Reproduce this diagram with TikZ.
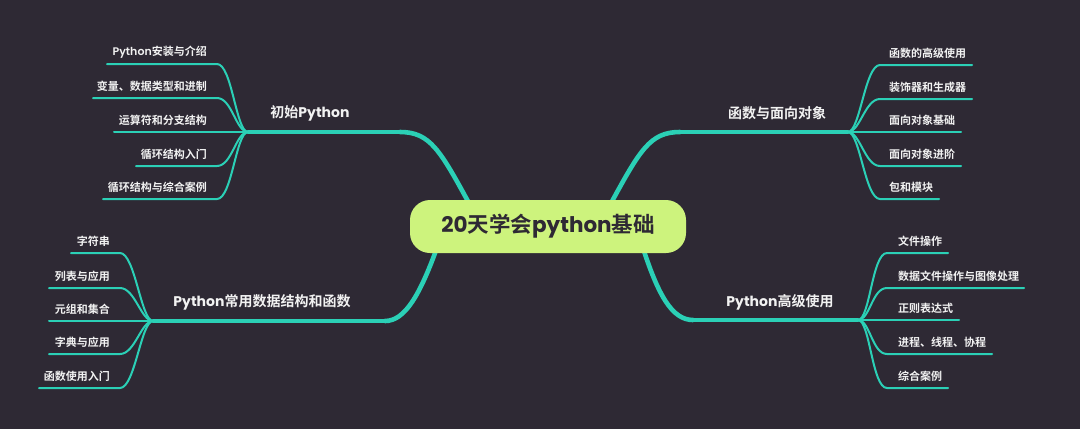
\documentclass[tikz,border=0pt]{standalone}
\usepackage{fontspec}
\setmainfont{Poppins}[UprightFont=* SemiBold, BoldFont=* Bold]
\newfontfamily\cjk{Noto Sans CJK SC}[UprightFont=* Bold, BoldFont=* Bold]
\newcommand\zh[1]{{\cjk #1}}
\definecolor{mmbg}{RGB}{46,41,52}
\definecolor{mmteal}{RGB}{43,208,182}
\definecolor{mmlime}{RGB}{205,243,125}
\definecolor{mmtxt}{RGB}{242,242,242}
\begin{document}
\begin{tikzpicture}[x=1pt,y=-1pt,
  sub/.style={draw=mmteal, line width=2pt, line cap=round},
  mainh/.style={draw=mmteal, line width=3.4pt, line cap=round},
  mainc/.style={draw=mmteal, line width=4.6pt, line cap=round},
  lbl/.style={text=mmtxt, font=\fontsize{11}{13}\selectfont, inner sep=0pt},
  mlbl/.style={text=mmtxt, font=\bfseries\fontsize{14}{17}\selectfont, inner sep=0pt},
  rootbox/.style={fill=mmlime, rounded corners=20pt, minimum width=276pt, minimum height=53pt,
     inner sep=0pt, text=mmbg, font=\bfseries\fontsize{21.5}{25}\selectfont}]
\fill[mmbg] (0,0) rectangle (1080,429);
\useasboundingbox (0,0) rectangle (1080,429);

% junctions
\coordinate (J1) at (248,132);
\coordinate (J2) at (848,132);
\coordinate (J3) at (153,321);
\coordinate (J4) at (858,320);

% main branches
\coordinate (tlM) at (400,132); \coordinate (tlC) at (470,205);
\coordinate (trM) at (680,132); \coordinate (trC) at (610,205);
\coordinate (blM) at (385,321); \coordinate (blC) at (438,245);
\coordinate (brM) at (693,320); \coordinate (brC) at (642,245);

\draw[mainh] (J1) -- (tlM);
\draw[mainc] (tlM) .. controls +(30,0) and +(-30,-55) .. (tlC);
\draw[mainh] (J2) -- (trM);
\draw[mainc] (trM) .. controls +(-30,0) and +(30,-55) .. (trC);
\draw[mainh] (J3) -- (blM);
\draw[mainc] (blM) .. controls +(20,0) and +(-18,50) .. (blC);
\draw[mainh] (J4) -- (brM);
\draw[mainc] (brM) .. controls +(-21,0) and +(16,50) .. (brC);

\node[mlbl] (tlL) at (310,113) {\zh{初始}Python};
\node[mlbl] (trL) at (777,113) {\zh{函数与面向对象}};
\node[mlbl] (blL) at (262,302) {Python\zh{常用数据结构和函数}};
\node[mlbl] (brL) at (780,302) {Python\zh{高级使用}};

% top-left children
\foreach \y/\xe/\t [count=\i] in {64/107/{Python\zh{安装与介绍}},98/93/{\zh{变量、数据类型和进制}},132/114/{\zh{运算符和分支结构}},166/136/{\zh{循环结构入门}},199/103/{\zh{循环结构与综合案例}}}{
  \coordinate (tlA\i) at (\xe,\y);
  \coordinate (tlB\i) at (217,\y);
  \node[lbl,anchor=east] (tlT\i) at (207,\y-12) {\t};
  \draw[sub] (tlA\i) -- (tlB\i) .. controls +(15,0) and +(-12,0) .. (J1);
}
% top-right children
\foreach \y/\xe/\t [count=\i] in {65/972/{\zh{函数的高级使用}},99/972/{\zh{装饰器和生成器}},132/961/{\zh{面向对象基础}},166/961/{\zh{面向对象进阶}},199/939/{\zh{包和模块}}}{
  \coordinate (trA\i) at (\xe,\y);
  \coordinate (trB\i) at (880,\y);
  \node[lbl,anchor=west] (trT\i) at (889,\y-12) {\t};
  \draw[sub] (J2) .. controls +(12,0) and +(-15,0) .. (trB\i) -- (trA\i);
}
% bottom-left children
\foreach \y/\xe/\t [count=\i] in {253/71/{\zh{字符串}},288/49/{\zh{列表与应用}},321/49/{\zh{元组和集合}},354/49/{\zh{字典与应用}},388/39/{\zh{函数使用入门}}}{
  \coordinate (blA\i) at (\xe,\y);
  \coordinate (blB\i) at (120,\y);
  \node[lbl,anchor=east] (blT\i) at (110,\y-12) {\t};
  \draw[sub] (blA\i) -- (blB\i) .. controls +(15,0) and +(-12,0) .. (J3);
}
% bottom-right children
\foreach \y/\xe/\t [count=\i] in {253/948/{\zh{文件操作}},288/1024/{\zh{数据文件操作与图像处理}},320/959/{\zh{正则表达式}},354/992/{\zh{进程、线程、协程}},388/948/{\zh{综合案例}}}{
  \coordinate (brA\i) at (\xe,\y);
  \coordinate (brB\i) at (887,\y);
  \node[lbl,anchor=west] (brT\i) at (898,\y-12) {\t};
  \draw[sub] (J4) .. controls +(12,0) and +(-15,0) .. (brB\i) -- (brA\i);
}

\node[rootbox] (root) at (548,226.5) {20\zh{天学会}python\zh{基础}};
\end{tikzpicture}
\end{document}
